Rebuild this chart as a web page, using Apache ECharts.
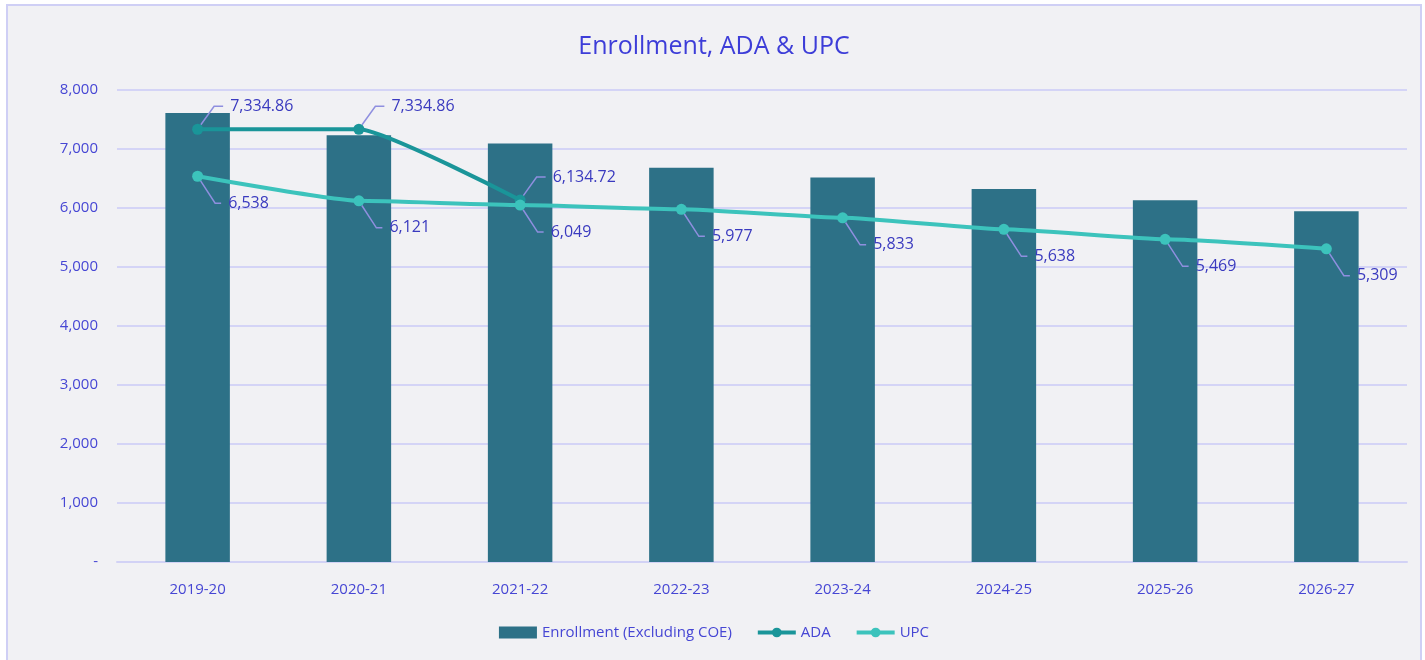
<!DOCTYPE html>
<html><head><meta charset="utf-8">
<script src="https://cdn.jsdelivr.net/npm/echarts@6/dist/echarts.min.js"></script>
<style>
html,body{margin:0;padding:0;background:#fff;}
#frame{position:absolute;left:6px;top:4px;width:1416px;height:660px;border:2px solid #cfcff5;background:#f1f1f4;box-sizing:border-box;}
#c{width:100%;height:100%;}
</style></head><body>
<div id="frame"><div id="c"></div></div>
<script>
const categories = ['2019-20','2020-21','2021-22','2022-23','2023-24','2024-25','2025-26','2026-27'];
const enrollment = [7609, 7234, 7093, 6684, 6519, 6320, 6133, 5946];
const ada = [7334.86, 7334.86, 6134.72, null, null, null, null, null];
const upc = [6538, 6121, 6049, 5977, 5833, 5638, 5469, 5309];
const yTicks = [0, 1000, 2000, 3000, 4000, 5000, 6000, 7000, 8000];

const txt = '#4646d4';
const lblColor = '#3a3abf';
const font = 'Open Sans';
const fmt = (v, d) => v.toLocaleString('en-US', {minimumFractionDigits: d, maximumFractionDigits: d});

const chart = echarts.init(document.getElementById('c'));
chart.setOption({
  backgroundColor: 'transparent',
  textStyle: {fontFamily: font},
  title: {text: 'Enrollment, ADA & UPC', left: 'center', top: 23,
    textStyle: {color: '#3d3dd8', fontSize: 25, fontWeight: 'normal', fontFamily: font}},
  grid: {left: 109, right: 13, top: 84, bottom: 100},
  legend: {bottom: 17, left: 'center', itemGap: 24, itemWidth: 38, itemHeight: 12,
    textStyle: {color: txt, fontSize: 15, fontFamily: font},
    data: [{name: 'Enrollment (Excluding COE)', icon: 'rect'},
           {name: 'ADA', lineStyle: {width: 4}}, {name: 'UPC', lineStyle: {width: 4}}]},
  xAxis: {type: 'category', data: categories,
    axisLine: {lineStyle: {color: '#d2d2f5', width: 2}}, axisTick: {show: false},
    axisLabel: {color: txt, fontSize: 15, margin: 20, fontFamily: font}},
  yAxis: {type: 'value', min: yTicks[0], max: yTicks[yTicks.length - 1], interval: 1000,
    axisLine: {show: false}, axisTick: {show: false},
    splitLine: {lineStyle: {color: '#d4d4f6', width: 2}},
    axisLabel: {color: txt, fontSize: 15, margin: 19, fontFamily: font,
      formatter: v => v === 0 ? '-' : fmt(v, 0)}},
  series: [
    {name: 'Enrollment (Excluding COE)', type: 'bar', data: enrollment, barWidth: '40%',
      itemStyle: {color: '#2d7187'}},
    {name: 'ADA', type: 'line', data: ada, smooth: 0.15, smoothMonotone: 'x', symbol: 'circle', symbolSize: 11,
      connectNulls: false,
      lineStyle: {width: 4, color: '#1a9599'}, itemStyle: {color: '#1a9599'},
      label: {show: true, position: 'right', distance: 0, color: lblColor, fontSize: 16, fontFamily: font,
        padding: [0, 0, 0, 7], backgroundColor: 'rgba(0,0,0,0)', formatter: p => fmt(p.value, 2)},
      labelLayout: {dx: 20, dy: -23},
      labelLine: {show: true, length2: 9, lineStyle: {color: '#8f8fdf', width: 1.5}}},
    {name: 'UPC', type: 'line', data: upc, smooth: 0.15, smoothMonotone: 'x', symbol: 'circle', symbolSize: 11,
      lineStyle: {width: 4, color: '#3cc3bc'}, itemStyle: {color: '#3cc3bc'},
      label: {show: true, position: 'right', distance: 0, color: lblColor, fontSize: 16, fontFamily: font,
        padding: [0, 0, 0, 7], backgroundColor: 'rgba(0,0,0,0)', formatter: p => fmt(p.value, 0)},
      labelLayout: {dx: 18, dy: 27},
      labelLine: {show: true, length2: 6, lineStyle: {color: '#8f8fdf', width: 1.5}}}
  ]
});
</script></body></html>
